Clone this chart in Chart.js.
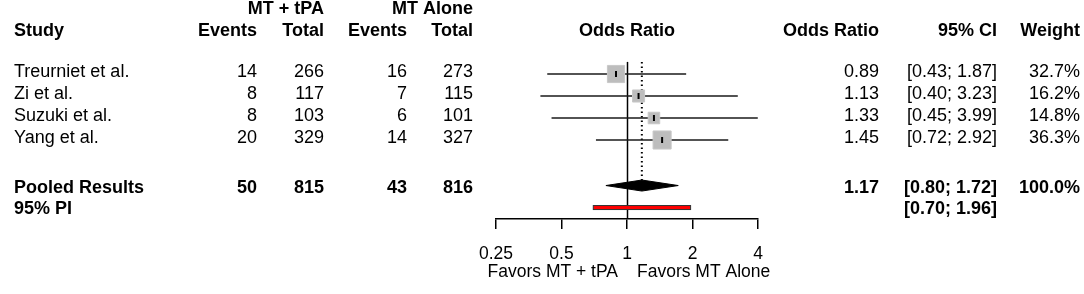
<!DOCTYPE html>
<html>
<head>
<meta charset="utf-8">
<script src="https://cdn.jsdelivr.net/npm/chart.js@4/dist/chart.umd.min.js"></script>
<style>
  html, body { margin: 0; padding: 0; background: #fff; }
  canvas { display: block; }
</style>
</head>
<body>
<canvas id="forest" width="1084" height="294"></canvas>
<script>
// study data
const studies = ['Treurniet et al.', 'Zi et al.', 'Suzuki et al.', 'Yang et al.'];
const eventsTpa = [14, 8, 8, 20];
const totalTpa = [266, 117, 103, 329];
const eventsAlone = [16, 7, 6, 14];
const totalAlone = [273, 115, 101, 327];
const oddsRatio = [0.89, 1.13, 1.33, 1.45];
const ciLow = [0.43, 0.40, 0.45, 0.72];
const ciHigh = [1.87, 3.23, 3.99, 2.92];
const weights = [32.7, 16.2, 14.8, 36.3];

// pooled results
const pooledCounts = [50, 815, 43, 816];
const pooledOR = 1.17;
const pooledCI = [0.80, 1.72];
const predInterval = [0.70, 1.96];

// axis
const xTicks = [0.25, 0.5, 1, 2, 4];
const xLabels = ['Favors MT + tPA', 'Favors MT Alone'];

// row positions (y value of each row)
const studyRows = [0, 1, 2, 3];
const pooledRow = 5.07;
const piRow = 6.07;

const FONT = '"Liberation Sans", Arial, sans-serif';
const FS = 18;
const AXIS_FS = 17.5;

const lineSets = studies.map((s, i) => ({
  label: s,
  data: [{ x: ciLow[i], y: studyRows[i] }, { x: ciHigh[i], y: studyRows[i] }],
  showLine: true,
  borderColor: '#1a1a1a',
  borderWidth: 1.5,
  pointRadius: 0,
  order: 4
}));

const tableText = {
  id: 'tableText',
  beforeDatasetsDraw(chart) {
    const { ctx, scales: { x, y } } = chart;
    ctx.save();
    // no-effect line (solid) and pooled estimate (dotted)
    const top = y.getPixelForValue(-0.55);
    ctx.strokeStyle = '#000';
    ctx.lineWidth = 1.5;
    ctx.beginPath();
    ctx.moveTo(Math.round(x.getPixelForValue(1)) + 0.5, top);
    ctx.lineTo(Math.round(x.getPixelForValue(1)) + 0.5, chart.chartArea.bottom);
    ctx.stroke();
    ctx.setLineDash([1.5, 3]);
    ctx.lineWidth = 2;
    ctx.beginPath();
    ctx.moveTo(x.getPixelForValue(pooledOR), top);
    ctx.lineTo(x.getPixelForValue(pooledOR), y.getPixelForValue(pooledRow - 0.25));
    ctx.stroke();
    ctx.restore();
  },
  afterDraw(chart) {
    const { ctx, scales: { x, y } } = chart;
    ctx.save();

    // prediction interval bar
    const px0 = x.getPixelForValue(predInterval[0]);
    const px1 = x.getPixelForValue(predInterval[1]);
    const py = y.getPixelForValue(piRow);
    ctx.fillStyle = '#ff0000';
    ctx.fillRect(px0, py - 2, px1 - px0, 4);
    ctx.strokeStyle = '#333';
    ctx.lineWidth = 1;
    ctx.strokeRect(px0, py - 2, px1 - px0, 4);
    ctx.fillStyle = '#000';

    const txt = (s, xp, yp, align, bold, size) => {
      ctx.font = (bold ? 'bold ' : '') + (size || FS) + 'px ' + FONT;
      ctx.textAlign = align;
      ctx.textBaseline = 'alphabetic';
      ctx.fillText(s, xp, yp);
    };
    const cols = [257, 324, 407, 473];

    // headers
    txt('MT + tPA', 324, 14, 'right', true);
    txt('MT Alone', 473, 14, 'right', true);
    txt('Study', 14, 36, 'left', true);
    ['Events', 'Total', 'Events', 'Total'].forEach((h, i) => txt(h, cols[i], 36, 'right', true));
    txt('Odds Ratio', x.getPixelForValue(1), 36, 'center', true);
    txt('Odds Ratio', 879, 36, 'right', true);
    txt('95% CI', 997, 36, 'right', true);
    txt('Weight', 1080, 36, 'right', true);

    // study rows
    studies.forEach((s, i) => {
      const yb = y.getPixelForValue(studyRows[i]) + 3;
      txt(s, 14, yb, 'left', false);
      [eventsTpa[i], totalTpa[i], eventsAlone[i], totalAlone[i]].forEach((v, j) => txt(String(v), cols[j], yb, 'right', false));
      txt(oddsRatio[i].toFixed(2), 879, yb, 'right', false);
      txt('[' + ciLow[i].toFixed(2) + '; ' + ciHigh[i].toFixed(2) + ']', 997, yb, 'right', false);
      txt(weights[i].toFixed(1) + '%', 1080, yb, 'right', false);
    });

    // pooled rows
    const yp = y.getPixelForValue(pooledRow) + 7;
    txt('Pooled Results', 14, yp, 'left', true);
    pooledCounts.forEach((v, j) => txt(String(v), cols[j], yp, 'right', true));
    txt(pooledOR.toFixed(2), 879, yp, 'right', true);
    txt('[' + pooledCI[0].toFixed(2) + '; ' + pooledCI[1].toFixed(2) + ']', 997, yp, 'right', true);
    txt(weights.reduce((a, b) => a + b, 0).toFixed(1) + '%', 1080, yp, 'right', true);
    const yq = y.getPixelForValue(piRow) + 6.5;
    txt('95% PI', 14, yq, 'left', true);
    txt('[' + predInterval[0].toFixed(2) + '; ' + predInterval[1].toFixed(2) + ']', 997, yq, 'right', true);

    // axis captions
    const x1 = x.getPixelForValue(1);
    txt(xLabels[0], x1 - 9, 277, 'right', false, AXIS_FS);
    txt(xLabels[1], x1 + 10, 277, 'left', false, AXIS_FS);
    ctx.restore();
  }
};

new Chart(document.getElementById('forest'), {
  type: 'scatter',
  data: {
    datasets: [
      ...lineSets,
      {
        label: 'weight',
        data: oddsRatio.map((v, i) => ({ x: v, y: studyRows[i] })),
        pointStyle: 'rect',
        pointRadius: weights.map(w => 3 * Math.sqrt(w) / Math.SQRT2),
        backgroundColor: '#bdbdbd',
        borderColor: '#c8c8c8',
        borderWidth: 1,
        order: 2
      },
      {
        label: 'estimate',
        data: oddsRatio.map((v, i) => ({ x: v, y: studyRows[i] })),
        pointStyle: 'line',
        rotation: 90,
        pointRadius: 3,
        borderColor: '#000',
        borderWidth: 2,
        order: 1
      },
      {
        label: 'pooled',
        data: [
          { x: pooledCI[0], y: pooledRow },
          { x: pooledOR, y: pooledRow - 0.25 },
          { x: pooledCI[1], y: pooledRow },
          { x: pooledOR, y: pooledRow + 0.25 },
          { x: pooledCI[0], y: pooledRow }
        ],
        showLine: true,
        fill: 'shape',
        backgroundColor: '#000',
        borderColor: '#000',
        borderWidth: 1,
        pointRadius: 0,
        tension: 0,
        order: 3
      }
    ]
  },
  options: {
    responsive: false,
    animation: false,
    devicePixelRatio: 1,
    layout: { autoPadding: false, padding: { left: 496, right: 326, top: 0, bottom: 0 } },
    plugins: {
      legend: { display: false },
      tooltip: { enabled: false }
    },
    scales: {
      x: {
        type: 'logarithmic',
        min: 0.25,
        max: 4,
        afterBuildTicks: (s) => { s.ticks = xTicks.map(v => ({ value: v })); },
        afterFit: (s) => { s.height = 75; },
        border: { display: true, color: '#000', width: 1.5 },
        grid: { drawOnChartArea: false, drawTicks: true, tickLength: 10, color: '#000', lineWidth: 1.5 },
        ticks: {
          color: '#000',
          padding: 15,
          maxRotation: 0,
          autoSkip: false,
          font: { size: AXIS_FS, family: FONT },
          callback: (v) => String(v)
        }
      },
      y: {
        type: 'linear',
        display: false,
        reverse: true,
        min: -3.364,
        max: 6.591
      }
    }
  },
  plugins: [tableText]
});
</script>
</body>
</html>
